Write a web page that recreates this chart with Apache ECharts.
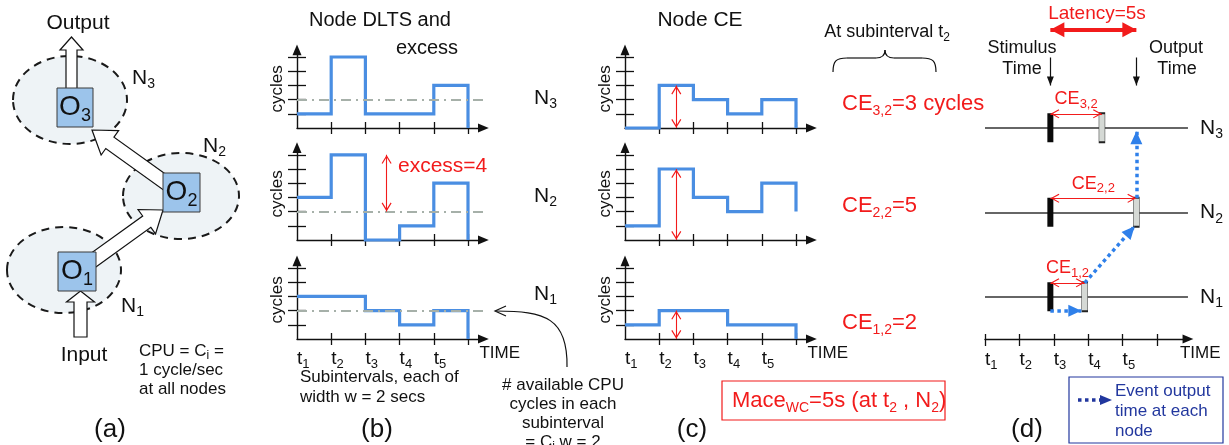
<!DOCTYPE html>
<html><head><meta charset="utf-8">
<script src="https://cdn.jsdelivr.net/npm/echarts@6.0.0/dist/echarts.min.js"></script>
<style>html,body{margin:0;padding:0;background:#fff;overflow:hidden}#c{width:1229px;height:445px}</style>
</head><body><div id="c"></div>
<script>
// ---------------- data ----------------
const subintervalLabels = ['1', '2', '3', '4', '5'];   // t1..t5
const nodeNames = ['1', '2', '3'];                       // N1..N3
const availableCycles = 2;                               // Ci * w
const cpuRate = 1;                                       // cycle / sec
const subintervalWidth = 2;                              // secs
// Node DLTS (cycles per subinterval) and value after t5
const dltsN1 = [3, 3, 2, 1, 2];
const dltsN2 = [3, 6, 0, 1, 4];
const dltsN3 = [1, 5, 1, 1, 3];
const dltsAfter = [0, 0, 0];
// Node CE (cycles per subinterval) and value after t5
const ceN1 = [1, 2, 2, 1, 1];
const ceN2 = [1, 5, 3, 2, 4];
const ceN3 = [0, 3, 2, 1, 2];
const ceAfter = [0, 2, 0];
const stimulusTime = 3.8;                                // secs, on the time axis of (d)
const ceIndex = 1;                                       // subinterval t2

// ---------------- style ----------------
const FF = '"Liberation Sans", Arial, Helvetica, sans-serif';
const BLUE = '#4a8ee2', RED = '#f21b1b', INK = '#111111', NAVY = '#22379e';
const TRI = 'path://M5,0 L10,12 L0,12 Z';
const TRI_C = 'path://M5,12 L10,24 L0,24 Z M5,0 L5.01,0.01 Z';
const CHEV = 'path://M5,10 L10,19 L9,19.7 L5,12.6 L1,19.7 L0,19 Z M5,0 L5.01,0.01 Z';
const UX = 34.2, UY = 14.2, XMAX = 5.45;
const both = (w, h) => [[w, h], [w, h]];

const maxDltsN2 = Math.max(...dltsN2);
const ceAtT2 = [ceN1[ceIndex], ceN2[ceIndex], ceN3[ceIndex]];
const ceSec = ceAtT2.map(c => c / cpuRate);
const latency = Math.max(...ceSec);

function stepPoints(vals, endVal) {
  const pts = [];
  vals.forEach((v, i) => { pts.push([i, v]); pts.push([i + 1, v]); });
  pts.push([vals.length, endVal]);
  return pts;
}
const rng = (a, b, s) => { const r = []; for (let v = a; v <= b + 1e-9; v += (s || 1)) r.push(v); return r; };
const subRich = (fs, color) => ({ s: { fontSize: fs, lineHeight: fs, fontFamily: FF, color: color || INK, verticalAlign: 'bottom' } });

const panels = [
  { vals: dltsN3, end: dltsAfter[2], left: 297, base: 128, ymax: 5.5, nt: 5, dash: true },
  { vals: dltsN2, end: dltsAfter[1], left: 297, base: 240, ymax: 6.5, nt: 6, dash: true, excess: true },
  { vals: dltsN1, end: dltsAfter[0], left: 297, base: 339, ymax: 5.5, nt: 5, dash: true, labels: true },
  { vals: ceN3, end: ceAfter[2], left: 625, base: 128, ymax: 5.5, nt: 5, ce: true },
  { vals: ceN2, end: ceAfter[1], left: 625, base: 240, ymax: 6.5, nt: 6, ce: true },
  { vals: ceN1, end: ceAfter[0], left: 625, base: 339, ymax: 5.5, nt: 5, ce: true, labels: true }
];

const grids = [], xAxes = [], yAxes = [], series = [];
const axLine = { show: true, onZero: false, symbol: ['none', TRI], symbolSize: [9, 11], lineStyle: { color: INK, width: 1.4 } };
const tickStyle = { color: INK, width: 1.3 };

panels.forEach((p, g) => {
  const h = p.ymax * UY, w = XMAX * UX;
  grids.push({ left: p.left, top: p.base - h, width: w, height: h, containLabel: false, outerBoundsMode: 'none' });
  const xi = xAxes.length, yi = yAxes.length;
  const xt = rng(1, subintervalLabels.length);
  xAxes.push({
    gridIndex: g, type: 'value', min: 0, max: XMAX, interval: 1, position: 'bottom', silent: true,
    axisLine: axLine,
    axisTick: { show: true, customValues: xt, length: 6, lineStyle: tickStyle },
    axisLabel: p.labels ? {
      show: true, customValues: rng(0, subintervalLabels.length - 1),
      formatter: v => (Number.isInteger(v) && v >= 0 && v < subintervalLabels.length) ? 't{s|' + subintervalLabels[v] + '}' : '',
      align: 'left', margin: 7, fontSize: 19, lineHeight: 25, color: INK, fontFamily: FF, rich: subRich(13)
    } : { show: false },
    splitLine: { show: false },
    name: p.labels ? 'TIME' : '', nameLocation: 'end', nameGap: -4,
    nameTextStyle: { fontSize: 17, color: INK, fontFamily: FF, align: 'left', verticalAlign: 'top', padding: [6, 0, 0, 0] }
  });
  xAxes.push({
    gridIndex: g, type: 'value', min: 0, max: XMAX, interval: 1, position: 'bottom', silent: true,
    axisLine: { show: false }, axisTick: { show: true, inside: true, customValues: xt, length: 6, lineStyle: tickStyle },
    axisLabel: { show: false }, splitLine: { show: false }
  });
  const yt = rng(1, p.nt);
  yAxes.push({
    gridIndex: g, type: 'value', min: 0, max: p.ymax, interval: 1, position: 'left', silent: true,
    axisLine: axLine,
    axisTick: { show: true, customValues: yt, length: 9, lineStyle: tickStyle },
    axisLabel: { show: false }, splitLine: { show: false },
    name: 'cycles', nameLocation: 'middle', nameGap: 11,
    nameTextStyle: { fontSize: 17, color: INK, fontFamily: FF }
  });
  yAxes.push({
    gridIndex: g, type: 'value', min: 0, max: p.ymax, interval: 1, position: 'left', silent: true,
    axisLine: { show: false }, axisTick: { show: true, inside: true, customValues: yt, length: 9, lineStyle: tickStyle },
    axisLabel: { show: false }, splitLine: { show: false }
  });
  const s = {
    type: 'line', xAxisIndex: xi, yAxisIndex: yi, data: stepPoints(p.vals, p.end),
    symbol: 'none', showSymbol: false, clip: false, z: 3, silent: true,
    lineStyle: { color: BLUE, width: 3.2, join: 'miter', cap: 'butt' }
  };
  if (p.dash) {
    s.markLine = {
      silent: true, symbol: ['none', 'none'], label: { show: false }, animation: false,
      lineStyle: { color: '#a6b0a9', width: 1.8, type: [10, 5, 2, 5] },
      data: [{ yAxis: availableCycles }]
    };
  }
  series.push(s);
  if (p.ce) {
    series.push({
      type: 'lines', coordinateSystem: 'cartesian2d', xAxisIndex: xi, yAxisIndex: yi, z: 5, silent: true,
      symbol: [CHEV, CHEV], symbolSize: both(10, 18),
      lineStyle: { color: RED, width: 1.1, opacity: 1 },
      data: [{ coords: [[ceIndex + 0.5, 0], [ceIndex + 0.5, p.vals[ceIndex]]] }]
    });
  }
  if (p.excess) {
    series.push({
      type: 'lines', coordinateSystem: 'cartesian2d', xAxisIndex: xi, yAxisIndex: yi, z: 5, silent: true,
      symbol: [CHEV, CHEV], symbolSize: both(10, 18),
      lineStyle: { color: RED, width: 1.1, opacity: 1 },
      data: [{ coords: [[2.62, maxDltsN2], [2.62, availableCycles]] }]
    });
  }
});

// ---------------- panel (d) ----------------
const UXD = 17.2, XMAXD = 11.8;
const gD = grids.length;
grids.push({ left: 985, top: 1, width: XMAXD * UXD, height: 338, containLabel: false, outerBoundsMode: 'none' });
const DX = xAxes.length, DY = yAxes.length;
const dTicks = rng(0, 10, subintervalWidth);
xAxes.push({
  gridIndex: gD, type: 'value', min: 0, max: XMAXD, interval: subintervalWidth, position: 'bottom', silent: true,
  axisLine: axLine,
  axisTick: { show: true, customValues: dTicks, length: 7, lineStyle: tickStyle },
  axisLabel: {
    show: true, customValues: subintervalLabels.map((_, i) => i * subintervalWidth),
    formatter: v => { const k = v / subintervalWidth; return (Number.isInteger(k) && k < subintervalLabels.length) ? 't{s|' + subintervalLabels[k] + '}' : ''; },
    align: 'left', margin: 8, fontSize: 19, lineHeight: 25, color: INK, fontFamily: FF, rich: subRich(13)
  },
  splitLine: { show: false },
  name: 'TIME', nameLocation: 'end', nameGap: -8,
  nameTextStyle: { fontSize: 17, color: INK, fontFamily: FF, align: 'left', verticalAlign: 'top', padding: [6, 0, 0, 0] }
});
xAxes.push({
  gridIndex: gD, type: 'value', min: 0, max: XMAXD, interval: subintervalWidth, position: 'bottom', silent: true,
  axisLine: { show: false }, axisTick: { show: true, inside: true, customValues: dTicks, length: 5, lineStyle: tickStyle },
  axisLabel: { show: false }, splitLine: { show: false }
});
yAxes.push({
  gridIndex: gD, type: 'value', min: 0.5, max: 4.5, interval: 0.5, position: 'right', silent: true,
  axisLine: { show: false }, axisTick: { show: false }, splitLine: { show: false },
  axisLabel: {
    show: true, customValues: nodeNames.map((_, i) => i + 1),
    formatter: v => (Number.isInteger(v) && v >= 1 && v <= nodeNames.length) ? 'N{s|' + nodeNames[v - 1] + '}' : '',
    margin: 12, fontSize: 21, lineHeight: 27, color: INK, fontFamily: FF, rich: subRich(14)
  }
});
const H = 0.165;
series.push({
  type: 'scatter', xAxisIndex: DX, yAxisIndex: DY, data: [], z: 1, silent: true,
  markLine: {
    silent: true, symbol: ['none', 'none'], label: { show: false }, animation: false,
    lineStyle: { color: '#333', width: 1.5, type: 'solid' },
    data: nodeNames.map((_, i) => ({ yAxis: i + 1 }))
  }
});
series.push({
  type: 'scatter', xAxisIndex: DX, yAxisIndex: DY, z: 6, silent: true, symbol: 'rect', symbolSize: [6, 29],
  itemStyle: { color: '#0a0a0a', opacity: 1 },
  data: nodeNames.map((_, i) => [stimulusTime, i + 1])
});
series.push({
  type: 'scatter', xAxisIndex: DX, yAxisIndex: DY, z: 6, silent: true, symbol: 'rect', symbolSize: [6, 29],
  itemStyle: { color: '#d5d9d5', borderColor: '#222', borderWidth: 1, opacity: 1 },
  data: ceSec.map((c, i) => [stimulusTime + c, i + 1])
});
series.push({
  type: 'lines', coordinateSystem: 'cartesian2d', xAxisIndex: DX, yAxisIndex: DY, z: 7, silent: true,
  symbol: [CHEV, CHEV], symbolSize: both(9, 18),
  lineStyle: { color: RED, width: 1.1, opacity: 1 },
  label: {
    show: true, position: 'middle', distance: 3, formatter: p => 'CE{s|' + p.name + '}',
    color: RED, fontSize: 18, lineHeight: 23, fontFamily: FF, rich: subRich(13, RED)
  },
  data: ceSec.map((c, i) => ({ name: nodeNames[i] + ',' + subintervalLabels[ceIndex], coords: [[stimulusTime, i + 1 + H], [stimulusTime + c, i + 1 + H]] }))
});
series.push({
  type: 'lines', coordinateSystem: 'cartesian2d', xAxisIndex: DX, yAxisIndex: DY, z: 8, silent: true,
  symbol: ['none', TRI_C], symbolSize: both(12, 26),
  lineStyle: { color: '#2f80ea', width: 3.5, type: [3.5, 3.5], opacity: 1 },
  data: [
    { coords: [[stimulusTime, 1 - H], [stimulusTime + ceSec[0] - 0.2, 1 - H]] },
    { coords: [[stimulusTime + ceSec[0], 1 + H], [stimulusTime + ceSec[1] - 0.1, 2 - H]] },
    { coords: [[stimulusTime + ceSec[1], 2 + H], [stimulusTime + ceSec[1], 3 - 0.04]] }
  ]
});
series.push({
  type: 'lines', coordinateSystem: 'cartesian2d', xAxisIndex: DX, yAxisIndex: DY, z: 8, silent: true,
  symbol: ['none', TRI_C], symbolSize: both(7, 18),
  lineStyle: { color: INK, width: 1.2, opacity: 1 },
  data: [
    { coords: [[stimulusTime, 3.83], [stimulusTime, 3.5]] },
    { coords: [[stimulusTime + latency, 3.83], [stimulusTime + latency, 3.5]] }
  ]
});
series.push({
  type: 'lines', coordinateSystem: 'cartesian2d', xAxisIndex: DX, yAxisIndex: DY, z: 8, silent: true,
  symbol: [TRI_C, TRI_C], symbolSize: both(15, 28),
  lineStyle: { color: RED, width: 4, opacity: 1 },
  data: [{ coords: [[stimulusTime, 4.16], [stimulusTime + latency, 4.16]] }]
});

// ---------------- graphic (diagram + annotations) ----------------
function T(x, y, text, size, opt) {
  opt = opt || {};
  const sub = opt.sub || Math.round(size * 0.66);
  const col = opt.color || INK;
  return {
    type: 'text', x: x, y: y, z: 20, silent: true,
    style: {
      text: text, fill: col, font: size + 'px ' + FF, fontSize: size, fontFamily: FF,
      align: opt.align || 'left', verticalAlign: 'middle', lineHeight: Math.round(size * 1.3),
      rich: { s: { fontSize: sub, lineHeight: sub, fontFamily: FF, fill: col, color: col, verticalAlign: 'bottom' } }
    }
  };
}
function fatArrow(x1, y1, x2, y2, sw, hw, hl) {
  const dx = x2 - x1, dy = y2 - y1, L = Math.hypot(dx, dy), ux = dx / L, uy = dy / L, nx = -uy, ny = ux;
  const bx = x2 - ux * hl, by = y2 - uy * hl;
  return {
    type: 'polygon', z: 2, silent: true,
    shape: { points: [
      [x1 + nx * sw / 2, y1 + ny * sw / 2], [bx + nx * sw / 2, by + ny * sw / 2], [bx + nx * hw / 2, by + ny * hw / 2],
      [x2, y2], [bx - nx * hw / 2, by - ny * hw / 2], [bx - nx * sw / 2, by - ny * sw / 2], [x1 - nx * sw / 2, y1 - ny * sw / 2]] },
    style: { fill: '#ffffff', stroke: '#111', lineWidth: 1.2 }
  };
}
const G = [];
// (a) operator graph
[[70, 100, 57, 44], [181, 196, 58, 43], [64, 270, 57, 43]].forEach(e => G.push({
  type: 'ellipse', z: 1, silent: true, shape: { cx: e[0], cy: e[1], rx: e[2], ry: e[3] },
  style: { fill: '#eef3f6', stroke: '#1a1a1a', lineWidth: 2, lineDash: [8, 6] }
}));
G.push(fatArrow(71.5, 90, 71.5, 37, 11, 23, 13));
G.push(fatArrow(80.5, 337, 80.5, 291, 13, 28, 11));
G.push(fatArrow(88, 264, 163, 210, 14, 30, 20));
G.push(fatArrow(170, 186, 92, 130, 14, 30, 22));
[[57, 88, 36, 39], [163, 173, 37, 39], [58, 252, 38, 39]].forEach(b => G.push({
  type: 'rect', z: 3, silent: true, shape: { x: b[0], y: b[1], width: b[2], height: b[3] },
  style: { fill: '#9cc4eb', stroke: '#3a3a3a', lineWidth: 1 }
}));
G.push(T(75, 107, 'O{s|' + nodeNames[2] + '}', 28, { align: 'center', sub: 18 }));
G.push(T(181.5, 192, 'O{s|' + nodeNames[1] + '}', 28, { align: 'center', sub: 18 }));
G.push(T(77, 271, 'O{s|' + nodeNames[0] + '}', 28, { align: 'center', sub: 18 }));
G.push(T(78, 23, 'Output', 21, { align: 'center' }));
G.push(T(84, 355, 'Input', 21, { align: 'center' }));
G.push(T(132, 78, 'N{s|' + nodeNames[2] + '}', 21, { sub: 14 }));
G.push(T(203, 146, 'N{s|' + nodeNames[1] + '}', 21, { sub: 14 }));
G.push(T(121, 306, 'N{s|' + nodeNames[0] + '}', 21, { sub: 14 }));
G.push(T(139, 351, 'CPU = C{s|i} =', 17, { sub: 12 }));
G.push(T(139, 370, cpuRate + ' cycle/sec', 17));
G.push(T(139, 389, 'at all nodes', 17));
G.push(T(110, 430, '(a)', 26, { align: 'center' }));
// (b)
G.push(T(380, 20, 'Node DLTS and', 20, { align: 'center' }));
G.push(T(427, 48, 'excess', 20, { align: 'center' }));
G.push(T(534, 98, 'N{s|' + nodeNames[2] + '}', 21, { sub: 14 }));
G.push(T(534, 196, 'N{s|' + nodeNames[1] + '}', 21, { sub: 14 }));
G.push(T(534, 294, 'N{s|' + nodeNames[0] + '}', 21, { sub: 14 }));
G.push(T(398, 166, 'excess=' + (maxDltsN2 - availableCycles), 21, { color: RED }));
G.push(T(300, 377, 'Subintervals, each of', 17));
G.push(T(300, 397, 'width w = ' + subintervalWidth + ' secs', 17));
G.push(T(377, 430, '(b)', 26, { align: 'center' }));
G.push(T(563, 385, '# available CPU', 17, { align: 'center' }));
G.push(T(563, 404, 'cycles in each', 17, { align: 'center' }));
G.push(T(563, 423, 'subinterval', 17, { align: 'center' }));
G.push(T(563, 442, '= C{s|i} w = ' + availableCycles, 17, { align: 'center', sub: 12 }));
G.push({ type: 'bezierCurve', z: 5, silent: true, shape: { x1: 567, y1: 367, cpx1: 568, cpy1: 318, cpx2: 545, cpy2: 311, x2: 496, y2: 311 }, style: { stroke: INK, lineWidth: 1.2, fill: null } });
G.push({ type: 'polyline', z: 5, silent: true, shape: { points: [[506, 306], [495, 311], [506, 316]] }, style: { stroke: INK, lineWidth: 1.2, fill: null } });
// (c)
G.push(T(700, 20, 'Node CE', 21, { align: 'center' }));
G.push(T(887, 32, 'At subinterval t{s|' + subintervalLabels[ceIndex] + '}', 18, { align: 'center', sub: 12 }));
[
  { type: 'bezierCurve', shape: { x1: 833, y1: 72, cpx1: 833, cpy1: 61, cpx2: 836, cpy2: 58, x2: 847, y2: 58 } },
  { type: 'line', shape: { x1: 847, y1: 58, x2: 876, y2: 58 } },
  { type: 'bezierCurve', shape: { x1: 876, y1: 58, cpx1: 883, cpy1: 58, cpx2: 885, cpy2: 55, x2: 885, y2: 50 } },
  { type: 'bezierCurve', shape: { x1: 885, y1: 50, cpx1: 885, cpy1: 55, cpx2: 887, cpy2: 58, x2: 894, y2: 58 } },
  { type: 'line', shape: { x1: 894, y1: 58, x2: 922, y2: 58 } },
  { type: 'bezierCurve', shape: { x1: 922, y1: 58, cpx1: 933, cpy1: 58, cpx2: 936, cpy2: 61, x2: 936, y2: 72 } }
].forEach(b => { b.z = 5; b.silent = true; b.style = { stroke: INK, lineWidth: 1.2, fill: null }; G.push(b); });
G.push(T(842, 104, 'CE{s|' + nodeNames[2] + ',' + subintervalLabels[ceIndex] + '}=' + ceAtT2[2] + ' cycles', 22, { color: RED, sub: 14 }));
G.push(T(842, 206, 'CE{s|' + nodeNames[1] + ',' + subintervalLabels[ceIndex] + '}=' + ceAtT2[1], 22, { color: RED, sub: 14 }));
G.push(T(842, 323, 'CE{s|' + nodeNames[0] + ',' + subintervalLabels[ceIndex] + '}=' + ceAtT2[0], 22, { color: RED, sub: 14 }));
G.push({ type: 'rect', z: 5, silent: true, shape: { x: 722, y: 381, width: 223, height: 39 }, style: { fill: '#fff', stroke: RED, lineWidth: 1.2 } });
G.push(T(732, 401, 'Mace{s|WC}=' + latency + 's (at t{s|' + subintervalLabels[ceIndex] + '} , N{s|' + nodeNames[ceSec.indexOf(latency)] + '})', 22, { color: RED, sub: 14 }));
G.push(T(692, 430, '(c)', 26, { align: 'center' }));
// (d)
G.push(T(1097, 14, 'Latency=' + latency + 's', 19, { align: 'center', color: RED }));
G.push(T(1022, 48, 'Stimulus', 18, { align: 'center' }));
G.push(T(1022, 69, 'Time', 18, { align: 'center' }));
G.push(T(1176, 48, 'Output', 18, { align: 'center' }));
G.push(T(1177, 69, 'Time', 18, { align: 'center' }));
G.push({ type: 'rect', z: 5, silent: true, shape: { x: 1069, y: 377, width: 154, height: 66 }, style: { fill: '#fff', stroke: NAVY, lineWidth: 1.2 } });
G.push({ type: 'line', z: 6, silent: true, shape: { x1: 1078, y1: 400, x2: 1101, y2: 400 }, style: { stroke: NAVY, lineWidth: 3.5, lineDash: [3.5, 3.5] } });
G.push({ type: 'polygon', z: 6, silent: true, shape: { points: [[1100, 395], [1112, 400], [1100, 405]] }, style: { fill: NAVY } });
G.push(T(1115, 391, 'Event output', 17, { color: NAVY }));
G.push(T(1115, 411, 'time at each', 17, { color: NAVY }));
G.push(T(1115, 431, 'node', 17, { color: NAVY }));
G.push(T(1027, 430, '(d)', 26, { align: 'center' }));

const chart = echarts.init(document.getElementById('c'), null, { renderer: 'canvas', width: 1229, height: 445 });
chart.setOption({
  animation: false,
  backgroundColor: '#ffffff',
  textStyle: { fontFamily: FF },
  grid: grids, xAxis: xAxes, yAxis: yAxes, series: series,
  graphic: { elements: G }
});
</script>
</body></html>
